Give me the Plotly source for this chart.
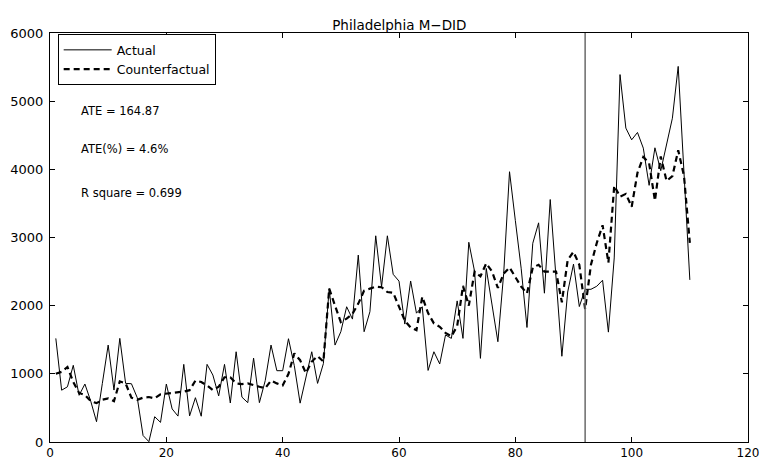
import plotly.graph_objects as go

t = list(range(1, 111))

actual = [1520, 760, 810, 1125, 685, 850, 600, 298, 860, 1422,
          762, 1520, 860, 855, 650, 95, 5, 371, 288, 850,
          485, 380, 1139, 383, 650, 378, 1139, 982, 676, 1139,
          572, 1324, 658, 577, 1230, 577, 900, 1422, 1046, 1046,
          1515, 1120, 570, 955, 1324, 860, 1150, 2253, 1422, 1618,
          1984, 1803, 2742, 1618, 1911, 3025, 2277, 3025, 2460, 2360,
          1730, 2362, 1890, 1984, 1050, 1324, 1145, 1570, 1520, 2070,
          1520, 2930, 2500, 1227, 2546, 2010, 1471, 2473, 3965, 3250,
          2550, 1680, 2915, 3215, 2183, 3557, 2420, 1258, 2200, 2610,
          1987, 2240, 2240, 2285, 2373, 1612, 2700, 5390, 4605, 4433,
          4541, 4311, 3765, 4316, 3980, 4348, 4750, 5510, 3950, 2378]

counterfactual = [1000, 1030, 1100, 880, 720, 690, 600, 570, 620, 640,
                  600, 890, 860, 650, 620, 650, 660, 640, 700, 710,
                  710, 720, 740, 760, 900, 880, 830, 760, 810, 950,
                  950, 860, 850, 860, 830, 810, 790, 900, 860, 830,
                  1000, 1300, 1200, 1010, 1180, 1260, 1180, 2250, 2000, 1760,
                  1810, 1880, 2030, 2220, 2250, 2280, 2270, 2200, 2190, 1980,
                  1780, 1680, 1640, 2130, 1890, 1740, 1690, 1600, 1550, 1700,
                  2290, 2000, 2500, 2430, 2620, 2500, 2260, 2470, 2560, 2420,
                  2280, 2180, 2560, 2600, 2500, 2500, 2500, 2050, 2670, 2790,
                  2600, 1950, 2600, 2920, 3180, 2630, 3760, 3600, 3640, 3450,
                  3950, 4180, 4090, 3540, 4190, 3830, 3900, 4280, 3900, 2920]

treatment_x = 92
x_ticks = [0, 20, 40, 60, 80, 100, 120]
y_ticks = [0, 1000, 2000, 3000, 4000, 5000, 6000]
title_text = "Philadelphia M−DID"
stats_text = ["ATE = 164.87", "ATE(%) = 4.6%", "R square = 0.699"]
stats_y = [4850, 4300, 3650]

FONT = "DejaVu Sans"

fig = go.Figure()
fig.add_trace(go.Scatter(x=t, y=actual, mode="lines", name="Actual",
                         line=dict(color="black", width=1)))
fig.add_trace(go.Scatter(x=t, y=counterfactual, mode="lines", name="Counterfactual",
                         line=dict(color="black", width=2.2, dash="6px,4px")))

fig.add_shape(type="line", x0=treatment_x, x1=treatment_x, y0=0, y1=1,
              xref="x", yref="paper", line=dict(color="#6a6a6a", width=1.5))

for txt, yy in zip(stats_text, stats_y):
    fig.add_annotation(x=4.9, y=yy, text=txt, showarrow=False, xanchor="left",
                       yanchor="middle", font=dict(family=FONT, size=11.5, color="black"))

axis_common = dict(showline=True, linecolor="black", linewidth=1, mirror="allticks",
                   ticks="inside", ticklen=5, tickcolor="black", tickwidth=1,
                   showgrid=False, zeroline=False, automargin=False)

fig.update_layout(
    width=765, height=459,
    margin=dict(l=50, r=17, t=33, b=17),
    paper_bgcolor="white", plot_bgcolor="white",
    title=dict(text=title_text, x=0.522, xanchor="center", y=0.945, yanchor="middle",
               font=dict(family=FONT, size=13.5, color="black")),
    xaxis=dict(range=[0, 120], tickvals=x_ticks, ticklabelstandoff=0,
               tickfont=dict(family=FONT, size=12, color="black"), **axis_common),
    yaxis=dict(range=[0, 6000], tickvals=y_ticks, ticklabelstandoff=3,
               tickfont=dict(family=FONT, size=13, color="black"), **axis_common),
    showlegend=True,
    legend=dict(x=0.011, y=0.997, xanchor="left", yanchor="top",
                bgcolor="white", bordercolor="black", borderwidth=1,
                font=dict(family=FONT, size=12.5, color="black"),
                tracegroupgap=0, itemwidth=48),
)

fig.write_html("out.html")
